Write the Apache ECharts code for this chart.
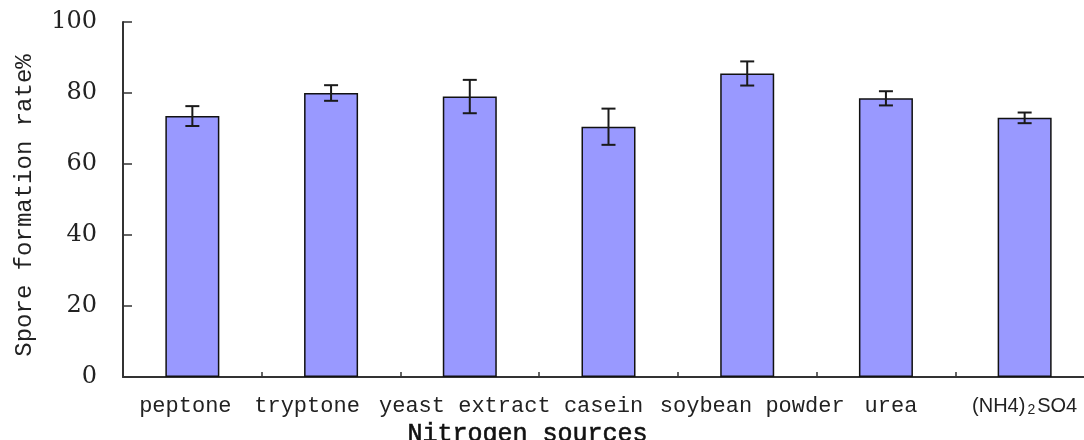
<!DOCTYPE html>
<html>
<head>
<meta charset="utf-8">
<style>
  html, body { margin: 0; padding: 0; background: #fff; }
  #chart { width: 1084px; height: 440px; }
</style>
<script src="https://cdn.jsdelivr.net/npm/echarts@6/dist/echarts.min.js"></script>
</head>
<body>
<div id="chart"></div>
<script>
// Nitrogen sources and the measured spore formation rates (mean and error)
const categories = ['peptone', 'tryptone', 'yeast extract', 'casein', 'soybean powder', 'urea', '(NH4)2SO4'];
const rates = [73.5, 80.0, 79.0, 70.5, 85.5, 78.5, 73.0];
const errors = [2.8, 2.2, 4.7, 5.1, 3.4, 2.0, 1.5];
const yTicks = { min: 0, max: 100, interval: 20 };

const chart = echarts.init(document.getElementById('chart'), null, { renderer: 'canvas' });

const mono = '"Liberation Mono", "DejaVu Sans Mono", monospace';

// horizontal nudges (px) of the category labels, so long names do not collide
const labelShift = [-7, -24, -5, -5, 5, 5, 0];

const labelRich = {
  n: { fontFamily: 'Liberation Sans, Arial, sans-serif', fontSize: 20, color: '#222' },
  s: { fontFamily: 'Liberation Sans, Arial, sans-serif', fontSize: 14, color: '#222', padding: [8, 2, 0, 2] }
};
labelShift.forEach((d, i) => {
  labelRich['c' + i] = {
    fontFamily: mono, fontSize: 22, color: '#222',
    padding: d < 0 ? [0, -2 * d, 0, 0] : [0, 0, 0, 2 * d]
  };
});

const errorData = rates.map((v, i) => [i, v, errors[i]]);

function renderErrorBar(params, api) {
  const x = api.value(0);
  const v = api.value(1);
  const e = api.value(2);
  const top = api.coord([x, v + e]);
  const bottom = api.coord([x, v - e]);
  const cap = 7;
  const style = { stroke: '#1a1a1a', lineWidth: 2 };
  return {
    type: 'group',
    children: [
      { type: 'line', shape: { x1: top[0], y1: top[1], x2: bottom[0], y2: bottom[1] }, style },
      { type: 'line', shape: { x1: top[0] - cap, y1: top[1], x2: top[0] + cap, y2: top[1] }, style },
      { type: 'line', shape: { x1: bottom[0] - cap, y1: bottom[1], x2: bottom[0] + cap, y2: bottom[1] }, style }
    ]
  };
}

chart.setOption({
  animation: false,
  backgroundColor: '#ffffff',
  grid: { left: 123, top: 22, right: -10, bottom: 63, containLabel: false, outerBoundsMode: 'none' },
  xAxis: {
    type: 'category',
    data: categories,
    boundaryGap: true,
    name: 'Nitrogen sources',
    nameLocation: 'middle',
    nameGap: 44,
    nameTextStyle: { fontFamily: mono, fontSize: 25, fontWeight: 'normal', color: '#111', textBorderColor: '#111', textBorderWidth: 0.6, padding: [0, 162, 0, 0] },
    axisLine: { lineStyle: { color: '#333', width: 2 } },
    axisTick: { show: true, inside: true, length: 5, lineStyle: { color: '#333', width: 1.5 } },
    axisLabel: {
      interval: 0,
      margin: 18,
      fontFamily: mono,
      fontSize: 22,
      color: '#222',
      formatter: function (v, i) {
        if (v === '(NH4)2SO4') return '{n|(NH4)}{s|2}{n|SO4}';
        return '{c' + i + '|' + v + '}';
      },
      rich: labelRich
    }
  },
  yAxis: {
    type: 'value',
    min: yTicks.min,
    max: yTicks.max,
    interval: yTicks.interval,
    name: 'Spore formation rate%',
    nameLocation: 'middle',
    nameGap: 86,
    nameRotate: 90,
    nameTextStyle: { fontFamily: mono, fontSize: 24, color: '#222', padding: [0, 12, 0, 0] },
    splitLine: { show: false },
    axisLine: { show: true, lineStyle: { color: '#333', width: 2 } },
    axisTick: { show: true, inside: true, length: 9, lineStyle: { color: '#333', width: 1.5 } },
    axisLabel: { fontFamily: '"DejaVu Serif", "Liberation Serif", serif', fontSize: 24, color: '#222', margin: 26 }
  },
  series: [
    {
      type: 'bar',
      data: rates,
      barWidth: 54,
      itemStyle: { color: '#9999ff', borderColor: '#111', borderWidth: 1.5 }
    },
    {
      type: 'custom',
      data: errorData,
      renderItem: renderErrorBar,
      z: 10
    }
  ]
});
</script>
</body>
</html>
